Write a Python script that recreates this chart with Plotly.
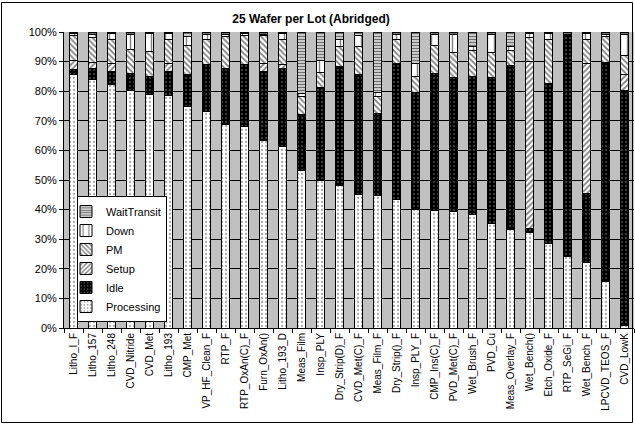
import plotly.graph_objects as go

# Tool groups, in chart order
categories = [
    "Litho_I_F", "Litho_157", "Litho_248", "CVD_Nitride", "CVD_Met", "Litho_193",
    "CMP_Met", "VP_HF_Clean_F", "RTP_F", "RTP_OxAn(C)_F", "Furn_OxAn()", "Litho_193_D",
    "Meas_Film", "Insp_PLY", "Dry_Strip(D)_F", "CVD_Met(C)_F", "Meas_Film_F",
    "Dry_Strip()_F", "Insp_PLY_F", "CMP_Ins(C)_F", "PVD_Met(C)_F", "Wet_Brush_F",
    "PVD_Cu", "Meas_Overlay_F", "Wet_Bench()", "Etch_Oxide_F", "RTP_SeGi_F",
    "Wet_Bench_F", "LPCVD_TEOS_F", "CVD_LowK",
]

# Share of time (%) spent in each state
processing = [85.5, 84.1, 82.1, 80.4, 78.9, 78.5, 74.8, 73.1, 68.8, 68.0, 63.5, 61.3,
              53.1, 49.8, 48.3, 45.2, 44.8, 43.5, 40.1, 39.6, 39.3, 38.5, 35.2, 33.2,
              32.1, 28.6, 24.1, 22.2, 15.6, 1.0]
idle = [1.9, 3.6, 4.5, 5.6, 6.2, 8.3, 10.9, 15.8, 18.9, 20.9, 23.1, 26.4,
        19.1, 31.5, 40.2, 40.6, 27.6, 46.0, 39.5, 46.5, 45.3, 46.6, 49.4, 55.4,
        1.6, 54.1, 74.9, 23.3, 74.0, 79.3]
setup = [3.1, 1.9, 2.6, 0.0, 0.0, 2.4, 0.0, 0.0, 0.0, 0.0, 2.8, 1.3,
         0.0, 0.0, 0.0, 0.0, 0.0, 0.0, 0.0, 0.0, 0.0, 0.0, 0.0, 0.0,
         56.3, 0.0, 0.0, 43.9, 0.0, 5.5]
pm = [8.3, 8.6, 8.3, 8.1, 8.3, 8.3, 9.7, 8.4, 10.7, 9.9, 9.4, 8.3,
      5.9, 5.0, 6.5, 9.2, 5.9, 7.9, 5.2, 9.4, 8.6, 8.7, 8.5, 5.2,
      8.3, 14.8, 0.0, 8.1, 9.0, 6.4]
down = [0.8, 1.1, 2.1, 5.1, 6.1, 2.0, 3.2, 1.7, 0.6, 0.6, 0.4, 2.2,
        1.2, 4.2, 2.3, 3.9, 1.2, 1.9, 4.5, 3.8, 6.1, 1.4, 6.2, 1.2,
        1.3, 2.1, 0.0, 2.1, 0.4, 6.8]
wait_transit = [0.4, 0.7, 0.4, 0.8, 0.5, 0.5, 1.4, 1.0, 1.0, 0.6, 0.8, 0.5,
                20.7, 9.5, 2.7, 1.1, 20.5, 0.7, 10.7, 0.7, 0.7, 4.8, 0.7, 5.0,
                0.4, 0.4, 1.0, 0.4, 1.0, 1.0]

y_ticks = [0, 10, 20, 30, 40, 50, 60, 70, 80, 90, 100]
y_tick_text = [f"{v}%" for v in y_ticks]

FONT = "Liberation Sans, Arial, sans-serif"

series = [
    ("Processing", processing, dict(bgcolor="white", fgcolor="#555555", shape=".", size=4, solidity=0.25)),
    ("Idle", idle, dict(bgcolor="black", fgcolor="#9a9a9a", shape=".", size=4, solidity=0.2)),
    ("Setup", setup, dict(bgcolor="white", fgcolor="black", shape="/", size=4, solidity=0.45)),
    ("PM", pm, dict(bgcolor="white", fgcolor="black", shape="\\", size=4, solidity=0.45)),
    ("Down", down, dict(bgcolor="white", fgcolor="black", shape="|", size=7, solidity=0.2)),
    ("WaitTransit", wait_transit, dict(bgcolor="#dddddd", fgcolor="black", shape="-", size=3, solidity=0.45)),
]

fig = go.Figure()
for name, vals, pat in series:
    fig.add_trace(go.Bar(
        name=name,
        x=categories,
        y=vals,
        width=0.42,
        marker=dict(
            color=pat["bgcolor"],
            line=dict(color="black", width=1),
            pattern=dict(fillmode="overlay", **pat),
        ),
    ))

W, H = 635, 425
L, R, T, B = 64, 1, 32, 97
pw, ph = W - L - R, H - T - B

def px_x(x):
    return (x - L) / pw

def px_y(y):
    return (H - B - y) / ph

fig.update_layout(
    width=W, height=H,
    margin=dict(l=L, r=R, t=T, b=B, pad=0),
    barmode="stack",
    paper_bgcolor="white",
    plot_bgcolor="#c0c0c0",
    font=dict(family=FONT, size=11, color="black"),
    title=dict(
        text="<b>25 Wafer per Lot (Abridged)</b>",
        font=dict(family=FONT, size=12, color="black"),
        x=311 / W, xanchor="center", xref="container",
        y=1 - 19 / H, yanchor="middle", yref="container",
    ),
    showlegend=True,
    legend=dict(
        x=px_x(77), y=px_y(259), xanchor="left", yanchor="middle",
        bgcolor="white", bordercolor="black", borderwidth=1,
        font=dict(family=FONT, size=11, color="black"),
        traceorder="reversed",
        itemwidth=30,
        indentation=-12,
        tracegroupgap=0,
    ),
    shapes=[dict(
        type="rect", xref="paper", yref="paper",
        x0=px_x(1.5), x1=px_x(632.5), y0=px_y(422.5), y1=px_y(2.5),
        line=dict(color="black", width=1), fillcolor="rgba(0,0,0,0)",
        layer="below",
    )],
)

fig.update_xaxes(
    type="category",
    showgrid=False,
    showline=True, linecolor="black", linewidth=1,
    ticks="outside", tickson="boundaries", ticklen=4, tickcolor="black",
    tickangle=-90,
    tickfont=dict(family=FONT, size=10, color="black"),
    range=[-0.5, len(categories) - 0.5],
)
fig.update_yaxes(
    range=[0, 100],
    tickvals=y_ticks, ticktext=y_tick_text,
    showgrid=True, gridcolor="black", gridwidth=1,
    showline=True, linecolor="black", linewidth=1,
    ticks="outside", ticklen=4, tickcolor="black",
    tickfont=dict(family=FONT, size=11, color="black"),
    zeroline=False,
)

fig.write_html("out.html")
